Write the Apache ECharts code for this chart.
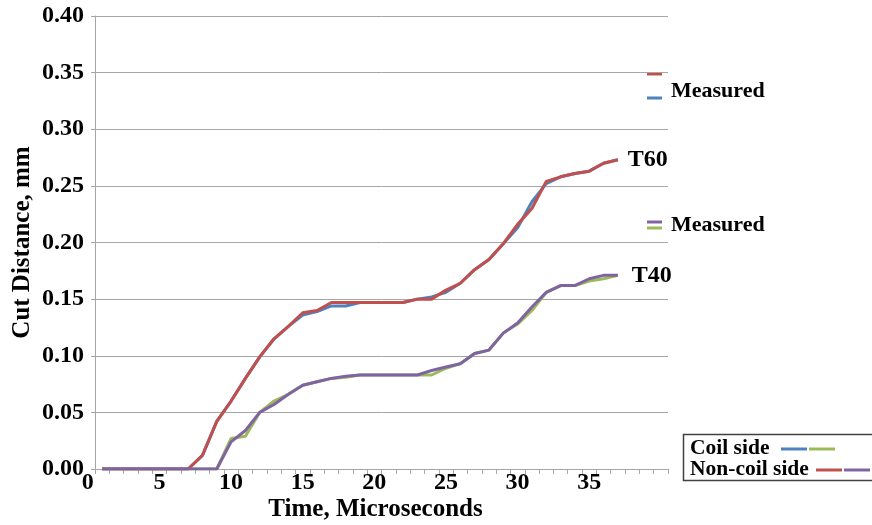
<!DOCTYPE html>
<html>
<head>
<meta charset="utf-8">
<script src="https://cdn.jsdelivr.net/npm/echarts@6/dist/echarts.min.js"></script>
<style>
  html, body { margin: 0; padding: 0; background: #fff; }
  #chart { width: 872px; height: 525px; }
</style>
</head>
<body>
<div id="chart"></div>
<script>
// Time steps, microseconds
const times = [1, 2, 3, 4, 5, 6, 7, 8, 9, 10, 11, 12, 13, 14, 15, 16, 17, 18, 19, 20,
               21, 22, 23, 24, 25, 26, 27, 28, 29, 30, 31, 32, 33, 34, 35, 36, 37];

// Cut distance (mm), T60 run
const t60CoilSide = [0, 0, 0, 0, 0, 0, 0, 0.012, 0.042, 0.060, 0.080, 0.099, 0.115, 0.126, 0.136, 0.139,
                     0.144, 0.144, 0.147, 0.147, 0.147, 0.147, 0.150, 0.152, 0.156, 0.164, 0.176, 0.185,
                     0.199, 0.213, 0.236, 0.252, 0.258, 0.261, 0.263, 0.270, 0.273];
const t60NonCoilSide = [0, 0, 0, 0, 0, 0, 0, 0.012, 0.042, 0.060, 0.080, 0.099, 0.115, 0.126, 0.138, 0.140,
                        0.147, 0.147, 0.147, 0.147, 0.147, 0.147, 0.150, 0.150, 0.158, 0.164, 0.176, 0.185,
                        0.199, 0.216, 0.230, 0.254, 0.258, 0.261, 0.263, 0.270, 0.273];

// Cut distance (mm), T40 run
const t40CoilSide = [0, 0, 0, 0, 0, 0, 0, 0, 0, 0.027, 0.029, 0.050, 0.060, 0.066, 0.074, 0.077,
                     0.080, 0.081, 0.083, 0.083, 0.083, 0.083, 0.083, 0.083, 0.089, 0.093, 0.102, 0.105,
                     0.120, 0.128, 0.140, 0.156, 0.162, 0.162, 0.166, 0.168, 0.171];
const t40NonCoilSide = [0, 0, 0, 0, 0, 0, 0, 0, 0, 0.024, 0.034, 0.050, 0.057, 0.066, 0.074, 0.077,
                        0.080, 0.082, 0.083, 0.083, 0.083, 0.083, 0.083, 0.087, 0.090, 0.093, 0.102, 0.105,
                        0.120, 0.129, 0.143, 0.156, 0.162, 0.162, 0.168, 0.171, 0.171];

// Axis tick labels
const timeLabels = [0, 5, 10, 15, 20, 25, 30, 35];
const distanceTicks = [0, 0.05, 0.10, 0.15, 0.20, 0.25, 0.30, 0.35, 0.40];

const COLORS = { blue: '#4F81BD', red: '#C0504D', green: '#9BBB59', purple: '#8064A2' };
const FONT = '"Liberation Serif", "Times New Roman", serif';
const GRID_COLOR = '#a6a6a6';

const pairs = (vals) => times.map((t, i) => [t, vals[i]]);

function lineSeries(name, vals, color, endText, endDist) {
  const s = {
    name: name,
    type: 'line',
    xAxisIndex: 0,
    yAxisIndex: 0,
    data: pairs(vals),
    showSymbol: false,
    symbol: 'none',
    animation: false,
    lineStyle: { color: color, width: 3 },
    itemStyle: { color: color }
  };
  if (endText) {
    s.endLabel = {
      show: true,
      formatter: endText,
      distance: endDist,
      fontFamily: FONT,
      fontWeight: 'bold',
      fontSize: 24,
      color: '#000'
    };
  }
  return s;
}

const chart = echarts.init(document.getElementById('chart'), null, { renderer: 'canvas' });

const labelStyle = { fontFamily: FONT, fontWeight: 'bold', fontSize: 24, color: '#000' };
const keyFont = 'bold 21.5px ' + FONT;

chart.setOption({
  backgroundColor: '#fff',
  animation: false,
  grid: { left: 95, right: 204, top: 16, bottom: 56, containLabel: false, outerBoundsMode: 'none' },
  xAxis: [
    {
      // data axis: one tick per time step boundary
      type: 'value',
      position: 'bottom',
      min: 0.5,
      max: 40.5,
      interval: 1,
      axisLine: { show: true, lineStyle: { color: GRID_COLOR, width: 1 } },
      axisTick: { show: true, length: 5, lineStyle: { color: GRID_COLOR } },
      axisLabel: { show: false },
      splitLine: { show: false },
      name: 'Time, Microseconds',
      nameLocation: 'middle',
      nameGap: 28,
      nameTextStyle: { fontFamily: FONT, fontWeight: 'bold', fontSize: 25, color: '#000', padding: [0, 12, 0, 0] }
    },
    {
      // label axis: time labels centred on their time step
      type: 'value',
      position: 'bottom',
      min: 0,
      max: 40,
      interval: 5,
      axisLine: { show: false },
      axisTick: { show: false },
      splitLine: { show: false },
      axisLabel: Object.assign({}, labelStyle, {
        margin: 2,
        padding: [0, 14.3, 0, 0],
        showMaxLabel: true,
        formatter: (v) => (timeLabels.indexOf(v) >= 0 ? String(v) : '')
      })
    }
  ],
  yAxis: {
    type: 'value',
    min: 0,
    max: 0.4,
    interval: 0.05,
    axisLine: { show: true, lineStyle: { color: GRID_COLOR, width: 1 } },
    axisTick: { show: true, length: 4, lineStyle: { color: GRID_COLOR } },
    splitLine: { show: true, lineStyle: { color: GRID_COLOR, width: 1 } },
    axisLabel: Object.assign({}, labelStyle, {
      margin: 11,
      formatter: (v) => {
        const hit = distanceTicks.find((d) => Math.abs(d - v) < 1e-9);
        return hit === undefined ? '' : hit.toFixed(2);
      }
    }),
    name: 'Cut Distance, mm',
    nameLocation: 'middle',
    nameMoveOverlap: false,
    nameGap: 60,
    nameTextStyle: { fontFamily: FONT, fontWeight: 'bold', fontSize: 25, color: '#000' }
  },
  series: [
    lineSeries('T60 coil side', t60CoilSide, COLORS.blue),
    lineSeries('T40 coil side', t40CoilSide, COLORS.green),
    lineSeries('T60 non-coil side', t60NonCoilSide, COLORS.red, 'T60', 10),
    lineSeries('T40 non-coil side', t40NonCoilSide, COLORS.purple, 'T40', 14)
  ],
  graphic: [
    // "Measured" key beside the T60 curves
    { type: 'line', shape: { x1: 647, y1: 74, x2: 662, y2: 74 }, style: { stroke: COLORS.red, lineWidth: 3 } },
    { type: 'line', shape: { x1: 647, y1: 98, x2: 662, y2: 98 }, style: { stroke: COLORS.blue, lineWidth: 3 } },
    { type: 'text', x: 671, y: 91, style: { text: 'Measured', fill: '#000', font: 'bold 22px ' + FONT, textVerticalAlign: 'middle' } },
    // "Measured" key beside the T40 curves
    { type: 'line', shape: { x1: 647, y1: 222, x2: 662, y2: 222 }, style: { stroke: COLORS.purple, lineWidth: 3 } },
    { type: 'line', shape: { x1: 647, y1: 228, x2: 662, y2: 228 }, style: { stroke: COLORS.green, lineWidth: 3 } },
    { type: 'text', x: 671, y: 225, style: { text: 'Measured', fill: '#000', font: 'bold 22px ' + FONT, textVerticalAlign: 'middle' } },
    // side key, bottom right
    { type: 'rect', shape: { x: 683.5, y: 434.5, width: 200, height: 46 }, style: { fill: '#fff', stroke: '#404040', lineWidth: 1.5 } },
    { type: 'text', x: 690, y: 448, style: { text: 'Coil side', fill: '#000', font: keyFont, textVerticalAlign: 'middle' } },
    { type: 'line', shape: { x1: 781, y1: 449, x2: 807, y2: 449 }, style: { stroke: COLORS.blue, lineWidth: 3 } },
    { type: 'line', shape: { x1: 809, y1: 449, x2: 835, y2: 449 }, style: { stroke: COLORS.green, lineWidth: 3 } },
    { type: 'text', x: 690, y: 469.5, style: { text: 'Non-coil side', fill: '#000', font: keyFont, textVerticalAlign: 'middle' } },
    { type: 'line', shape: { x1: 816, y1: 470, x2: 842, y2: 470 }, style: { stroke: COLORS.red, lineWidth: 3 } },
    { type: 'line', shape: { x1: 844, y1: 470, x2: 870, y2: 470 }, style: { stroke: COLORS.purple, lineWidth: 3 } }
  ]
});
</script>
</body>
</html>
